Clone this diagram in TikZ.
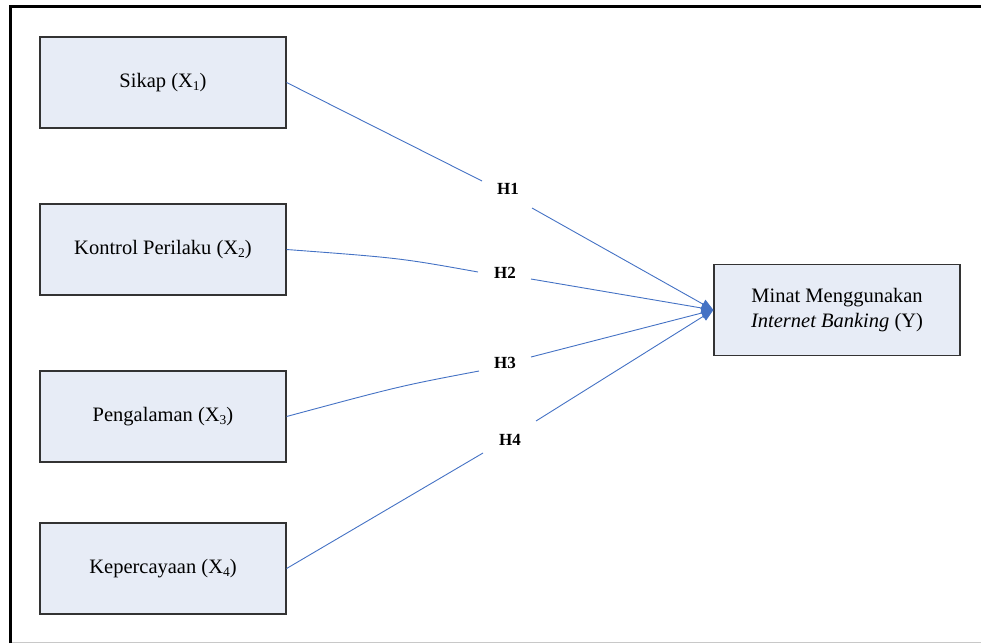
\documentclass[tikz,border=0pt]{standalone}
\usepackage{fontspec}
\setmainfont{Liberation Serif}
\usetikzlibrary{arrows.meta}
\definecolor{boxfill}{HTML}{E7ECF6}
\definecolor{boxline}{HTML}{333333}
\definecolor{linkblue}{HTML}{4472C4}
\definecolor{framegray}{HTML}{C8C8C8}
\newcommand\subx[1]{\raisebox{-3pt}{\fontsize{13.5}{13.5}\selectfont #1}}
\begin{document}
\begin{tikzpicture}[x=1pt,y=-1pt,
  varbox/.style={draw=boxline,line width=1.2pt,fill=boxfill,minimum width=246pt,minimum height=91pt,inner sep=0pt,align=center,font=\fontsize{20.5}{24.5}\selectfont},
  hlabel/.style={inner sep=0pt,font=\fontsize{17}{17}\selectfont\bfseries},
  link/.style={draw=linkblue,line width=0.9pt},
  arrlink/.style={link,-{Triangle[length=12pt,width=10pt]}}]
\useasboundingbox (0,0) rectangle (981,643);
% frame
\draw[framegray,line width=1pt] (11,642) -- (981,642);
\draw[black,line width=3.5pt] (10.7,643) -- (10.7,6.7) -- (981,6.7);
% boxes
\node[varbox] (s1) at (163,82.5) {Sikap (X\subx{1})};
\node[varbox] (s2) at (163,249.5) {Kontrol Perilaku (X\subx{2})};
\node[varbox] (s3) at (163,416.5) {Pengalaman (X\subx{3})};
\node[varbox] (s4) at (163,568.5) {Kepercayaan (X\subx{4})};
\node[varbox] (y) at (837,310) {Minat Menggunakan\\\textit{Internet Banking} (Y)};
% labels
\node[hlabel] (h1) at (508,189) {H1};
\node[hlabel] (h2) at (505,273) {H2};
\node[hlabel] (h3) at (505,363) {H3};
\node[hlabel] (h4) at (510,440) {H4};
% segment ends
\coordinate (h1a) at (482,181); \coordinate (h1b) at (532,208);
\coordinate (h2a) at (478,272); \coordinate (h2b) at (531,279);
\coordinate (h3a) at (479,371); \coordinate (h3b) at (531,357);
\coordinate (h4a) at (483,453); \coordinate (h4b) at (536,421);
% connectors
\draw[link] (s1.east) -- (h1a);
\draw[arrlink] (h1b) -- (y.west);
\draw[link] (s2.east) .. controls (400,258) .. (h2a);
\draw[arrlink] (h2b) -- (y.west);
\draw[link] (s3.east) .. controls (400,386) .. (h3a);
\draw[arrlink] (h3b) -- (y.west);
\draw[link] (s4.east) -- (h4a);
\draw[arrlink] (h4b) -- (y.west);
\end{tikzpicture}
\end{document}
